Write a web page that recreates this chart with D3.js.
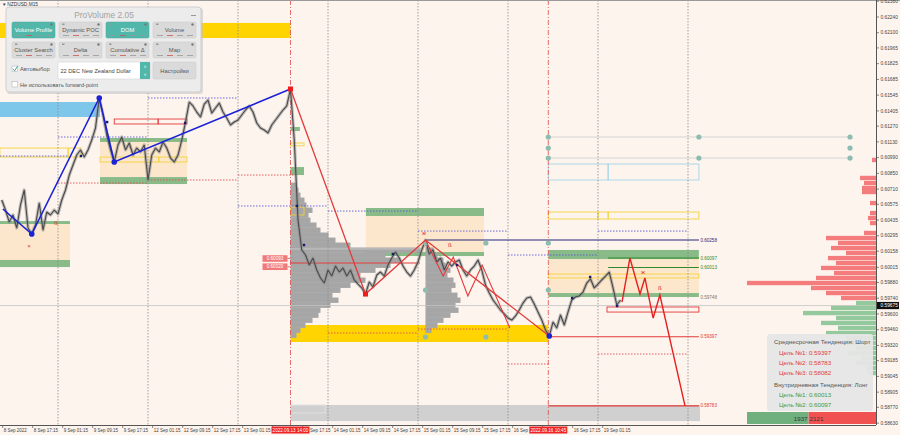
<!DOCTYPE html>
<html><head><meta charset="utf-8">
<script src="https://cdn.jsdelivr.net/npm/d3@7"></script>
<style>body{margin:0;background:#fdf4ee;} svg{display:block;font-family:"Liberation Sans",Arial,sans-serif;}</style>
</head><body><svg id="c" width="900" height="435"></svg>
<script>
// ---------- DATA ----------
// hourly closes, NZDUSD M15 (trading hours since 8 Sep 00:00)
const priceStartHour = 9;
const priceValues = [
0.60613,0.60524,0.60417,0.60480,0.60364,0.60569,0.60702,0.60364,0.60311,0.60391,
0.60586,0.60346,0.60506,0.60480,0.60524,0.60489,0.60613,0.60702,0.60835,0.60924,
0.61013,0.61058,0.60995,0.61058,0.61146,0.61253,0.61520,0.61369,0.61191,0.61058,
0.60951,0.61102,0.61173,0.61058,0.61120,0.61013,0.61075,0.61040,0.61102,0.60791,
0.61013,0.61075,0.61040,0.61129,0.61075,0.60986,0.60951,0.61013,0.61146,0.61306,
0.61484,0.61449,0.61395,0.61351,0.61466,0.61502,0.61386,0.61431,0.61475,0.61395,
0.61342,0.61280,0.61306,0.61324,0.61369,0.61413,0.61449,0.61395,0.61298,0.61253,
0.61235,0.61209,0.61280,0.61324,0.61369,0.61413,0.61449,0.61600,0.61146,0.60435,
0.60169,0.60124,0.60035,0.60097,0.59991,0.59920,0.59875,0.59991,0.59937,0.60026,
0.59973,0.60009,0.59937,0.59991,0.59902,0.59866,0.59831,0.59777,0.59884,0.59840,
0.59946,0.59973,0.59937,0.60035,0.60097,0.60151,0.60097,0.60026,0.59973,0.59937,
0.59991,0.60062,0.60169,0.60257,0.60133,0.60169,0.60062,0.60097,0.59991,0.60062,
0.60026,0.60062,0.60080,0.59991,0.59937,0.59991,0.60026,0.60080,0.59991,0.59857,
0.59786,0.59724,0.59680,0.59635,0.59600,0.59564,0.59546,0.59582,0.59635,0.59697,
0.59742,0.59751,0.59688,0.59617,0.59546,0.59457,0.59404,0.59528,0.59475,0.59591,
0.59502,0.59617,0.59724,0.59751,0.59760,0.59795,0.59875,0.59911,0.59831,0.59866,
0.59902,0.59937,0.59973,0.59831,0.59680,0.59724];
const currentPrice = 0.59675;

const yTickValues = [0.62380,0.62240,0.62100,0.61965,0.61825,0.61685,0.61545,0.61405,0.61270,0.61130,0.60990,0.60850,0.60710,0.60575,0.60435,0.60295,0.60158,0.60015,0.59880,0.59740,0.59600,0.59460,0.59320,0.59185,0.59045,0.58905,0.58770,0.58630];
const xTickHours = [9.25,17.25,25.25,33.25,41.25,49.25,57.25,65.25,73.25,81.25,89.25,97.25,105.25,113.25,121.25,129.25,137.25,145.25,153.25,161.25,169.25];
const xTickLabels = ["8 Sep 2022","8 Sep 17:15","9 Sep 01:15","9 Sep 09:15","9 Sep 17:15","12 Sep 01:15","12 Sep 09:15","12 Sep 17:15","13 Sep 01:15","13 Sep 09:15","13 Sep 17:15","14 Sep 01:15","14 Sep 09:15","14 Sep 17:15","15 Sep 01:15","15 Sep 09:15","15 Sep 17:15","16 Sep 01:15","16 Sep 09:15","16 Sep 17:15","19 Sep 01:15"];
const daySeparators = [24,48,72,96,120,144,168,192];
const markedTimes = [86,154.75];
const markedLabels = ["2022.09.13 14:00","2022.09.16 10:45"];

// zones: time span and 4 price edges (green top, beige, green bottom)
const zoneTimes = [[8.5,27.2],[35.2,58.4],[106.1,137.6],[154.75,194.9]];
const zonePrices = [[0.60426,0.60400,0.60080,0.60017],[0.61164,0.61129,0.60817,0.60755],[0.60542,0.60471,0.60151,0.60115],[0.60169,0.60088,0.59786,0.59751]];

// filled bands [t0,t1,priceTop,priceBottom,kind]
const bands = [
 [8.5,86,0.62187,0.62053,"gold"],
 [8.5,35.2,0.61484,0.61351,"sky"],
 [86,154.75,0.59502,0.59351,"gold"],
 [86,195.2,0.58791,0.58648,"gray"],
 [86,89.9,0.60257,0.60053,"steel"],
 [86,89.6,0.60906,0.60835,"green"],
 [86,88.5,0.61262,0.61226,"green"]];
// outlined boxes
const boxes = [
 [39,50.7,0.61333,0.61289,"red"],[50.7,58.4,0.61333,0.61289,"red"],
 [8.5,26.7,0.61075,0.60995,"yellow"],[26.7,30.1,0.61075,0.60995,"yellow"],
 [35.2,50.9,0.60995,0.60951,"yellow"],[50.9,58.4,0.60995,0.60951,"yellow"],
 [154.75,170.7,0.60933,0.60791,"lightblue"],[170.7,194.9,0.60933,0.60791,"lightblue"],
 [154.75,168,0.60506,0.60444,"yellow"],[168,170.7,0.60506,0.60444,"yellow"],[170.7,194.9,0.60506,0.60444,"yellow"],
 [154.75,194.9,0.59955,0.59920,"yellow"],
 [170.4,194.9,0.59662,0.59617,"red"],
 [86,89.6,0.60551,0.60480,"yellow"],[86,89.6,0.61120,0.61095,"yellow"],
 [86,95.2,0.58791,0.58720,"lightgray"]];
// previous-day high / low dotted lines [t0,t1,price]
const dayHighs = [[8.5,26.7,0.61004],[24,48,0.61173],[48,72,0.61520],[72,96,0.60560],[96,120,0.60515],[120,144,0.60337],[144,168,0.60124],[168,192,0.60337]];
const dayLows = [[24,48,0.60764],[48,72,0.60791],[72,88,0.60835],[96,120,0.59431],[120,144,0.59466],[144,155,0.59155],[168,192,0.59244]];

// zigzags
const blueZigzag = [[9.3,0.60533],[17,0.60311],[35,0.61520],[39,0.60951],[86,0.61600]];
const redZigzag = [[86,0.61600],[106,0.59777],[122,0.60257],[155,0.59404]];
const redSubZigzag = [[122,0.60257],[126.7,0.59937],[129.4,0.60106],[133.3,0.59760],[137.1,0.60035],[144.5,0.59475]];
const forecastZigzag = [[174.4,0.59706],[176.5,0.60097],[179.2,0.59777],[180.5,0.59920],[182.7,0.59564],[184.5,0.59768],[191.2,0.58783]];
const bluePivots = [[17,0.60311],[35,0.61520],[39,0.60951],[155,0.59404]];
const redPivots = [[86,0.61600],[106,0.59777]];
const navyMarks = [[30.1,0.61004],[37.1,0.61306],[57.9,0.61298],[87.7,0.60560],[89.6,0.60213],[113.3,0.60133],[130.4,0.60035],[161.1,0.59742],[165.9,0.59929],[173.1,0.59671]];
const redSigns = [[16.3,0.60204,"×"],[23.5,0.60409,"ß"],[121.6,0.60320,"ж"],[128.5,0.60213,"ß"],[180,0.59973,"ж"],[184.5,0.59831,"ß"]];

// target levels (right zone)
const levelStart = [122,170.7,170.7,154.75,154.75];
const levelEnd = 194.9;
const levelPrices = [0.60258,0.60097,0.60013,0.59397,0.58783];
const levelKinds = ["navy","green","green","red","red"];
const zoneLabelPrices = [0.60258,0.60097,0.60013,0.59748,0.59397,0.58783];
const zoneLabelKinds = ["navy","green","green","gray","red","red"];
const redLevel = [86,120.5,0.60053];
const faintLevel = [86,120.5,0.60178];
const sideLabels = [0.60093,0.60020];

// grey lines with teal dots
const tealLines = [[154.75,235.2,0.61173],[154.75,235.2,0.60986]];
const tealDots = [[154.75,0.61173],[154.75,0.61075],[154.75,0.60986],[194.9,0.61173],[194.9,0.60986],[235.2,0.61173],[235.2,0.61075],[235.2,0.60986],[122,0.60231],[122,0.59813],[122,0.59395],[138.1,0.60231],[138.1,0.59395],[154.75,0.60231],[154.75,0.59813]];

// volume profiles (price level, volume)
const profile1Start = 86;
const profile1Prices = [0.60746,0.60702,0.60657,0.60613,0.60569,0.60524,0.60480,0.60435,0.60391,0.60346,0.60302,0.60257,0.60213,0.60169,0.60124,0.60080,0.60035,0.59991,0.59946,0.59902,0.59857,0.59813,0.59768,0.59724,0.59680,0.59635,0.59591,0.59546,0.59502,0.59457,0.59413];
const profile1Volumes = [6,8,10,14,16,22,18,20,26,30,38,45,60,130,95,110,100,85,70,75,60,50,42,48,40,30,28,22,15,10,6];
const profile2Start = 122;
const profile2Prices = [0.60169,0.60124,0.60080,0.60035,0.59991,0.59946,0.59902,0.59857,0.59813,0.59768,0.59724,0.59680,0.59635,0.59591,0.59546,0.59502,0.59457];
const profile2Volumes = [8,12,18,20,25,22,28,30,26,32,35,30,33,25,18,12,6];

// right-edge market profile
const sellPrices = [0.60969,0.60809,0.60764,0.60720,0.60684,0.60586,0.60497,0.60453,0.60408,0.60320,0.60275,0.60231,0.60186,0.60142,0.60097,0.60053,0.60009,0.59964,0.59920,0.59875,0.59831,0.59786,0.59742];
const sellVolumes = [4,16,12,14,14,6,6,8,6,12,50,38,45,30,48,40,55,42,60,129,65,50,35];
const buyPrices = [0.59697,0.59653,0.59608,0.59564,0.59520,0.59475,0.59430,0.59386,0.59342,0.59297,0.59253,0.59208,0.59164,0.59119,0.59075];
const buyVolumes = [20,45,73,40,55,38,50,30,40,20,28,15,20,10,8];
const totalBuy = 1937, totalSell = 2121;

// info box
const infoLines = ["Среднесрочная Тенденция: Шорт","Цель №1: 0.59397","Цель №2: 0.58783","Цель №3: 0.58082","Внутридневная Тенденция: Лонг","Цель №1: 0.60013","Цель №2: 0.60097"];
const infoKinds = ["head","red","red","red","head","green","green"];

// panel
const panelButtons = ["Volume Profile","Dynamic POC","DOM","Volume","Cluster Search","Delta","Cumulative Δ","Map"];
const panelActive = [true,false,true,false,false,false,false,false];

// ---------- DRAW ----------
const W=900,H=435,PR=876,PB=425;
const x = d3.scaleLinear().domain([8.533,242.13]).range([0,PR]);
const y = d3.scaleLinear().domain([0.62391,0.58613]).range([0,PB]);
const C = {gold:"#ffd400",sky:"#7ec6ea",gray:"#d0d0d0",steel:"#7ea6c4",green:"#88bb88",beige:"#fde7cc",
  red:"#e23a3a",yellow:"#f2d33a",lightblue:"#a6d4e6",lightgray:"#e2e2e2",navy:"#27287e",gzone:"#2f8a2f",bluedot:"#5b5bd8",reddot:"#df5050",teal:"#8dbcb0"};
const svg = d3.select("#c");
svg.append("rect").attr("width",W).attr("height",H).attr("fill","#fdf4ee");
svg.append("defs").append("clipPath").attr("id","plot").append("rect").attr("width",PR).attr("height",PB);
const g = svg.append("g").attr("clip-path","url(#plot)");

function rectT(sel,t0,t1,p0,p1){return sel.attr("x",x(t0)).attr("y",y(p0)).attr("width",x(t1)-x(t0)).attr("height",y(p1)-y(p0));}

// zones
zoneTimes.forEach((t,i)=>{
  const p=zonePrices[i];
  rectT(g.append("rect"),t[0],t[1],p[1],p[2]).attr("fill",C.beige);
  rectT(g.append("rect"),t[0],t[1],p[0],p[1]).attr("fill",C.green);
  rectT(g.append("rect"),t[0],t[1],p[2],p[3]).attr("fill",C.green);
});
bands.forEach(b=>rectT(g.append("rect"),b[0],b[1],b[2],b[3]).attr("fill",C[b[4]]));

// volume profiles
const vp = d3.scaleLinear().domain([0,130]).range([0,130]);
const binH = y(0.60169)-y(0.60213);
profile1Prices.forEach((p,i)=>g.append("rect").attr("x",x(profile1Start)).attr("y",y(p)-binH/2).attr("width",vp(profile1Volumes[i])).attr("height",binH+0.4).attr("fill","#a6a6a6"));
profile2Prices.forEach((p,i)=>g.append("rect").attr("x",x(profile2Start)).attr("y",y(p)-binH/2).attr("width",vp(profile2Volumes[i])).attr("height",binH+0.4).attr("fill","#a6a6a6"));

// boxes
boxes.forEach(b=>rectT(g.append("rect"),b[0],b[1],b[2],b[3]).attr("fill","none").attr("stroke",C[b[4]]).attr("stroke-width",0.9));

// day separators
daySeparators.forEach(d=>g.append("line").attr("x1",x(d)).attr("x2",x(d)).attr("y1",0).attr("y2",PB).attr("stroke","#8c8c8c").attr("stroke-width",0.8).attr("stroke-dasharray","1.5,1.5"));
markedTimes.forEach(d=>g.append("line").attr("x1",x(d)).attr("x2",x(d)).attr("y1",0).attr("y2",PB).attr("stroke","#e04a4a").attr("stroke-width",0.8).attr("stroke-dasharray","5,2,1,2"));

// dotted day lines
dayHighs.forEach(l=>g.append("line").attr("x1",x(l[0])).attr("x2",x(l[1])).attr("y1",y(l[2])).attr("y2",y(l[2])).attr("stroke",C.bluedot).attr("stroke-width",0.9).attr("stroke-dasharray","1.5,1.5"));
dayLows.forEach(l=>g.append("line").attr("x1",x(l[0])).attr("x2",x(l[1])).attr("y1",y(l[2])).attr("y2",y(l[2])).attr("stroke",C.reddot).attr("stroke-width",0.9).attr("stroke-dasharray","1.5,1.5"));

// current price line
g.append("line").attr("x1",0).attr("x2",PR).attr("y1",y(currentPrice)).attr("y2",y(currentPrice)).attr("stroke","#c4c4c4").attr("stroke-width",0.8);
// red & faint levels
g.append("line").attr("x1",x(faintLevel[0])).attr("x2",x(faintLevel[1])).attr("y1",y(faintLevel[2])).attr("y2",y(faintLevel[2])).attr("stroke","#cfcfcf").attr("stroke-width",0.8);
g.append("line").attr("x1",x(redLevel[0])).attr("x2",x(redLevel[1])).attr("y1",y(redLevel[2])).attr("y2",y(redLevel[2])).attr("stroke",C.red).attr("stroke-width",1);

// target levels
const lvlCol = {navy:C.navy,green:C.gzone,red:C.red,gray:"#777"};
levelPrices.forEach((p,i)=>g.append("line").attr("x1",x(levelStart[i])).attr("x2",x(levelEnd)).attr("y1",y(p)).attr("y2",y(p)).attr("stroke",lvlCol[levelKinds[i]]).attr("stroke-width",1.1));
zoneLabelPrices.forEach((p,i)=>g.append("text").attr("x",x(levelEnd)+1.5).attr("y",y(p)+1.6).attr("font-size",4.6).attr("fill",lvlCol[zoneLabelKinds[i]]).text(p.toFixed(5)));

// teal lines
tealLines.forEach(l=>g.append("line").attr("x1",x(l[0])).attr("x2",x(l[1])).attr("y1",y(l[2])).attr("y2",y(l[2])).attr("stroke","#cccccc").attr("stroke-width",0.8));

// price
const line = d3.line().x((d,i)=>x(priceStartHour+i)).y(d=>y(d));
g.append("path").datum(priceValues).attr("d",line).attr("fill","none").attr("stroke","#8a8a8a").attr("stroke-width",3.2).attr("stroke-opacity",0.55).attr("stroke-linejoin","round");
g.append("path").datum(priceValues).attr("d",line).attr("fill","none").attr("stroke","#4a4a4a").attr("stroke-width",1.1).attr("stroke-linejoin","bevel");

tealDots.forEach(d=>g.append("circle").attr("cx",x(d[0])).attr("cy",y(d[1])).attr("r",2.6).attr("fill",C.teal));

// zigzags
const zz = d3.line().x(d=>x(d[0])).y(d=>y(d[1]));
g.append("path").attr("d",zz(blueZigzag)).attr("fill","none").attr("stroke","#1b22d8").attr("stroke-width",1.6);
g.append("path").attr("d",zz(redZigzag)).attr("fill","none").attr("stroke",C.red).attr("stroke-width",1.3);
g.append("path").attr("d",zz(redSubZigzag)).attr("fill","none").attr("stroke",C.red).attr("stroke-width",1.1);
g.append("path").attr("d",zz(forecastZigzag)).attr("fill","none").attr("stroke","#e42020").attr("stroke-width",1.4);
bluePivots.forEach(d=>g.append("circle").attr("cx",x(d[0])).attr("cy",y(d[1])).attr("r",2.8).attr("fill","#1b22d8"));
redPivots.forEach(d=>g.append("rect").attr("x",x(d[0])-2.5).attr("y",y(d[1])-2.5).attr("width",5).attr("height",5).attr("fill","#ee1c1c"));
navyMarks.forEach(d=>g.append("rect").attr("x",x(d[0])-1.2).attr("y",y(d[1])-1.2).attr("width",2.4).attr("height",2.4).attr("fill","#1a1a70"));
redSigns.forEach(d=>g.append("text").attr("x",x(d[0])).attr("y",y(d[1])+2).attr("text-anchor","middle").attr("font-size",6).attr("fill","#e03030").text(d[2]));

// side labels at 13 Sep mark
sideLabels.forEach(p=>{
  const xx=x(86);
  g.append("line").attr("x1",xx-3).attr("x2",xx).attr("y1",y(p)).attr("y2",y(p)).attr("stroke","#e06060").attr("stroke-width",0.8);
  g.append("rect").attr("x",xx-28).attr("y",y(p)-3.3).attr("width",25).attr("height",6.6).attr("fill","#f07a7a");
  g.append("text").attr("x",xx-15.5).attr("y",y(p)+1.7).attr("text-anchor","middle").attr("font-size",4.6).attr("fill","#fff").text(p.toFixed(5));
});

// right market profile
const mp = d3.scaleLinear().domain([0,totalBuy+totalSell]).range([0,PR-747]);
const volUnit = (totalBuy+totalSell)/129;
const mh = binH-0.6;
sellPrices.forEach((p,i)=>g.append("rect").attr("x",PR-mp(sellVolumes[i]*volUnit)).attr("y",y(p)-mh/2).attr("width",mp(sellVolumes[i]*volUnit)).attr("height",mh).attr("fill","#f47c7c"));
buyPrices.forEach((p,i)=>g.append("rect").attr("x",PR-mp(buyVolumes[i]*volUnit)).attr("y",y(p)-mh/2).attr("width",mp(buyVolumes[i]*volUnit)).attr("height",mh).attr("fill","#93c99d"));

// info box
const ib = svg.append("g");
ib.append("rect").attr("x",767).attr("y",334).attr("width",106).attr("height",77).attr("rx",3).attr("fill","#e6e6e6").attr("opacity",0.95);
const infoY=[344,354.5,364.5,374.5,386.5,397,407];
const infoX=[774,779,779,779,774,779,779];
const infoCol={head:"#555",red:"#e03a3a",green:"#3f9b3f"};
infoLines.forEach((t,i)=>ib.append("text").attr("x",infoX[i]).attr("y",infoY[i]).attr("font-size",6.2).attr("fill",infoCol[infoKinds[i]]).text(t));

// bottom buy/sell bar
const bx0 = PR - mp(totalBuy+totalSell);
svg.append("rect").attr("x",bx0).attr("y",412).attr("width",mp(totalBuy)).attr("height",12).attr("fill","#6fb07e");
svg.append("rect").attr("x",bx0+mp(totalBuy)).attr("y",412).attr("width",mp(totalSell)).attr("height",12).attr("fill","#f05252");
svg.append("text").attr("x",bx0+mp(totalBuy)-1).attr("y",420.5).attr("text-anchor","end").attr("font-size",6.2).attr("fill","#333").text(totalBuy);
svg.append("text").attr("x",bx0+mp(totalBuy)+1).attr("y",420.5).attr("font-size",6.2).attr("fill","#333").text(totalSell);

// frame / axes
svg.append("line").attr("x1",0).attr("x2",W).attr("y1",0.5).attr("y2",0.5).attr("stroke","#9a9a9a");
svg.append("line").attr("x1",PR+0.5).attr("x2",PR+0.5).attr("y1",0).attr("y2",PB).attr("stroke","#555");
svg.append("line").attr("x1",0).attr("x2",PR).attr("y1",PB+0.5).attr("y2",PB+0.5).attr("stroke","#555");
const ya = svg.append("g");
yTickValues.forEach(v=>{
  ya.append("line").attr("x1",PR).attr("x2",PR+3).attr("y1",y(v)).attr("y2",y(v)).attr("stroke","#555").attr("stroke-width",0.7);
  ya.append("text").attr("x",PR+4.5).attr("y",y(v)+1.7).attr("font-size",4.8).attr("fill","#444").text(v.toFixed(5));
});
ya.append("rect").attr("x",PR+1).attr("y",y(currentPrice)-3.6).attr("width",22).attr("height",7.2).attr("fill","#111");
ya.append("text").attr("x",PR+4.5).attr("y",y(currentPrice)+1.7).attr("font-size",4.8).attr("fill","#fff").text(currentPrice.toFixed(5));

// x axis: labels partly hidden by the red time markers
const xa = svg.append("g");
const markerBoxes = markedTimes.map(t=>[x(t)-19,x(t)+19]);
xTickHours.forEach((h,i)=>{
  xa.append("line").attr("x1",x(h)).attr("x2",x(h)).attr("y1",PB).attr("y2",PB+3).attr("stroke","#555").attr("stroke-width",0.7);
  const t = xa.append("text").attr("x",x(h)+1).attr("y",PB+7).attr("font-size",4.5).attr("fill","#444").text(xTickLabels[i]);
  const x0 = x(h)+1, x1 = x0 + t.node().getComputedTextLength();
  markerBoxes.forEach(b=>{
    if(x0>=b[0]-0.5 && x1<=b[1]+6){ t.remove(); }
    else if(x0>=b[0]-0.5 && x0<b[1]){ // starts under box: keep the visible tail
      const words = xTickLabels[i].split(" ");
      let s = xTickLabels[i];
      while(words.length>1){ t.text(s); if(x1 - t.node().getComputedTextLength() >= b[1]-3) break; words.shift(); s = words.join(" "); }
      t.text(s).attr("x", Math.max(b[1]+0.5, x1 - t.node().getComputedTextLength()));
    } else if(x0<b[0] && x1>b[0]-0.5){ // runs into box: drop trailing characters
      let s = xTickLabels[i];
      while(s.length && x0 + (t.text(s), t.node().getComputedTextLength()) > b[0]-0.5){ s = s.slice(0,-1); }
      t.text(s);
    }
  });
});
markedTimes.forEach((t,i)=>{
  xa.append("rect").attr("x",x(t)-19).attr("y",PB+1.5).attr("width",38).attr("height",7).attr("fill","#ee2222");
  xa.append("text").attr("x",x(t)).attr("y",PB+7).attr("text-anchor","middle").attr("font-size",4.6).attr("fill","#fff").text(markedLabels[i]);
});

// symbol caption
svg.append("text").attr("x",3).attr("y",6).attr("font-size",4.8).attr("fill","#333").text("▾ NZDUSD,M15");

// ---------- ProVolume panel ----------
const pn = svg.append("g");
pn.append("rect").attr("x",7).attr("y",8).attr("width",196).attr("height",86).attr("rx",3).attr("fill","#bdbdbd").attr("opacity",0.5);
pn.append("rect").attr("x",6).attr("y",7).attr("width",195).attr("height",85).attr("rx",3).attr("fill","#ececec").attr("stroke","#cfcfcf");
pn.append("text").attr("x",104).attr("y",17.5).attr("text-anchor","middle").attr("font-size",8.4).attr("fill","#a3a3a3").text("ProVolume 2.05");
pn.append("rect").attr("x",191).attr("y",15).attr("width",5).attr("height",1).attr("fill","#999");
panelButtons.forEach((b,i)=>{
  const bx = 12 + (i%4)*47, by = 22 + Math.floor(i/4)*20;
  pn.append("rect").attr("x",bx).attr("y",by).attr("width",43).attr("height",16).attr("rx",1.5).attr("fill",panelActive[i]?"#52b7ab":"#dadada").attr("stroke",panelActive[i]?"#4aa89c":"#c9c9c9").attr("stroke-width",0.5);
  pn.append("text").attr("x",bx+21.5).attr("y",by+10.2).attr("text-anchor","middle").attr("font-size",5.8).attr("fill",panelActive[i]?"#fff":"#555").text(b);
  pn.append("circle").attr("cx",bx+39.5).attr("cy",by+2.5).attr("r",1.2).attr("fill","#777");
  pn.append("rect").attr("x",bx+3).attr("y",by+1.5).attr("width",2.5).attr("height",1.5).attr("fill","#999");
  [0,1,2,3].forEach(k=>pn.append("rect").attr("x",bx+4+k*10).attr("y",by+13).attr("width",6).attr("height",0.8).attr("fill",k===1?"#cc5555":"#999"));
});
// checkbox rows
pn.append("rect").attr("x",12).attr("y",66).attr("width",5.5).attr("height",5.5).attr("fill","#fff").attr("stroke","#aaa").attr("stroke-width",0.5);
pn.append("path").attr("d","M12.8,68.8 L14.6,70.8 L17.8,65.8").attr("fill","none").attr("stroke","#3aa99c").attr("stroke-width",1);
pn.append("text").attr("x",20).attr("y",71.3).attr("font-size",5.8).attr("fill","#555").text("Автовыбор");
pn.append("rect").attr("x",58).attr("y",62).attr("width",92).attr("height",17).attr("rx",1.5).attr("fill","#fff").attr("stroke","#ccc").attr("stroke-width",0.5);
pn.append("text").attr("x",60.5).attr("y",72.5).attr("font-size",5.6).attr("fill","#444").text("22 DEC New Zealand Dollar");
pn.append("rect").attr("x",140).attr("y",62).attr("width",10).attr("height",17).attr("fill","#52b7ab");
pn.append("text").attr("x",145).attr("y",69).attr("text-anchor","middle").attr("font-size",4.5).attr("fill","#fff").text("˄");
pn.append("text").attr("x",145).attr("y",77).attr("text-anchor","middle").attr("font-size",4.5).attr("fill","#fff").text("˅");
pn.append("rect").attr("x",153).attr("y",62).attr("width",43).attr("height",17).attr("rx",1.5).attr("fill","#dadada").attr("stroke","#c9c9c9").attr("stroke-width",0.5);
pn.append("text").attr("x",174.5).attr("y",72.5).attr("text-anchor","middle").attr("font-size",5.8).attr("fill","#555").text("Настройки");
pn.append("rect").attr("x",12).attr("y",81.5).attr("width",5.5).attr("height",5.5).attr("fill","#fff").attr("stroke","#aaa").attr("stroke-width",0.5);
pn.append("text").attr("x",20).attr("y",86.5).attr("font-size",5.6).attr("fill","#555").text("Не использовать forward-point");
</script></body></html>
